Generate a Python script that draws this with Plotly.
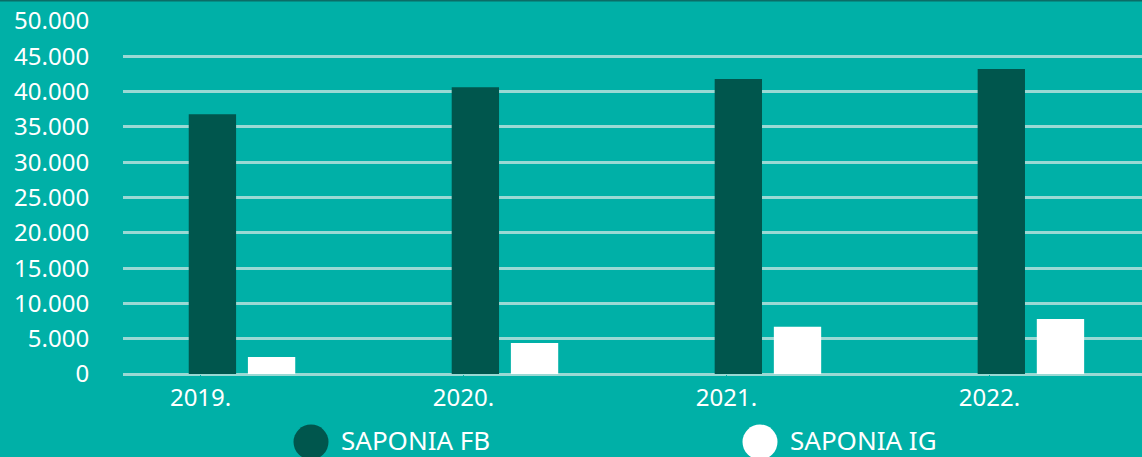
import plotly.graph_objects as go

years = ["2019.", "2020.", "2021.", "2022."]
saponia_fb = [36800, 40600, 41800, 43200]
saponia_ig = [2400, 4400, 6700, 7800]
series_names = ["SAPONIA FB", "SAPONIA IG"]
y_ticks = [0, 5000, 10000, 15000, 20000, 25000, 30000, 35000, 40000, 45000, 50000]

BG = "#00B0A7"
DARK = "#00564D"
WHITE = "#FFFFFF"
GRID = "#9AD9D4"

fig = go.Figure()
fig.add_trace(go.Bar(x=years, y=saponia_fb, name=series_names[0], marker=dict(color=DARK, line=dict(width=0)),
                     offset=-0.045, width=0.18, showlegend=False))
fig.add_trace(go.Bar(x=years, y=saponia_ig, name=series_names[1], marker=dict(color=WHITE, line=dict(width=0)),
                     offset=0.18, width=0.18, showlegend=False))

W, H = 1142, 457
L, R, T, B = 123, 0, 21, 83
pw = W - L - R
ph = H - T - B

def px_to_paper_x(px):
    return (px - L) / pw

def px_to_paper_y(py):
    return (H - B - py) / ph

legend_font = dict(family="Noto Sans, sans-serif", size=26, color=WHITE)
legend_items = [(series_names[0], DARK, 311, 339), (series_names[1], WHITE, 760, 788)]
shapes = []
annotations = []
for name, col, cx, tx in legend_items:
    shapes.append(dict(type="circle", xref="paper", yref="paper", xsizemode="pixel", ysizemode="pixel",
                       xanchor=px_to_paper_x(cx), yanchor=px_to_paper_y(442),
                       x0=-17.5, x1=17.5, y0=-17.5, y1=17.5, fillcolor=col, line=dict(width=0)))
    annotations.append(dict(text=name, xref="paper", yref="paper", x=px_to_paper_x(tx), y=px_to_paper_y(440),
                            xanchor="left", yanchor="middle", showarrow=False, font=legend_font))

shapes.append(dict(type="line", xref="paper", yref="paper", x0=px_to_paper_x(0), x1=1,
                   y0=px_to_paper_y(0.5), y1=px_to_paper_y(0.5), line=dict(color="#0B6C67", width=2)))

fig.update_layout(
    width=W, height=H,
    margin=dict(l=L, r=R, t=T, b=B, pad=0),
    paper_bgcolor=BG, plot_bgcolor=BG,
    barmode="overlay",
    separators=",.",
    font=dict(family="Noto Sans, sans-serif", size=24, color=WHITE),
    shapes=shapes, annotations=annotations,
    showlegend=False,
)
fig.update_xaxes(type="category", range=[-0.295, 3.58], showgrid=False, zeroline=False, showline=False,
                 ticks="outside", ticklen=2, tickcolor=BG, tickfont=dict(size=24, color=WHITE))
fig.update_yaxes(range=[0, 50000], tickvals=y_ticks, tickformat=",.0f", showgrid=True, gridcolor=GRID, gridwidth=3,
                 zeroline=True, zerolinecolor=GRID, zerolinewidth=3, showline=False,
                 ticks="outside", ticklen=28, tickcolor=BG, tickfont=dict(size=24, color=WHITE))

fig.write_html("out.html", config={"displayModeBar": False},
               post_script="document.body.style.margin='0';document.body.style.padding='0';")
